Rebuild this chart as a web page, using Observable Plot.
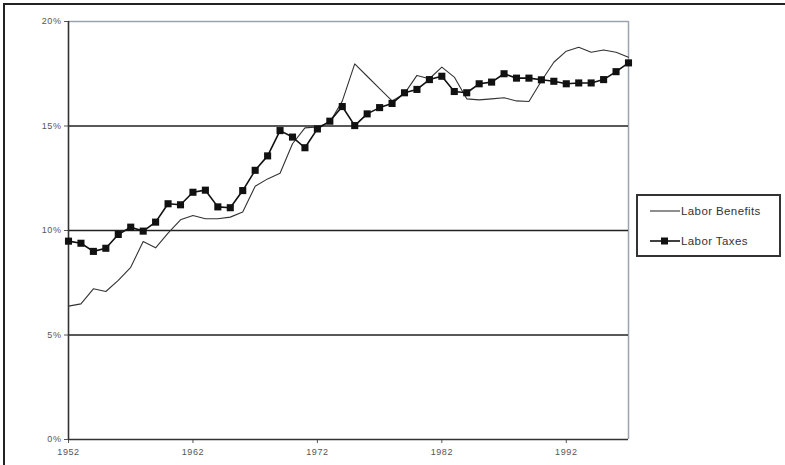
<!DOCTYPE html>
<html>
<head>
<meta charset="utf-8">
<script src="https://cdn.jsdelivr.net/npm/d3@7"></script>
<script src="https://cdn.jsdelivr.net/npm/@observablehq/plot@0.6"></script>
<style>
  html, body { margin: 0; padding: 0; background: #fff; }
  #wrap { position: relative; width: 785px; height: 465px; overflow: hidden; font-family: "Liberation Sans", Arial, sans-serif; }
  #frame { position: absolute; left: 3px; top: 3px; width: 800px; height: 480px; border-left: 2px solid #222; border-top: 2px solid #222; pointer-events: none; }
  #legend { position: absolute; left: 636px; top: 194px; width: 145px; height: 63px; border: 2px solid #333; box-sizing: border-box; background: #fff; font-size: 11.5px; letter-spacing: 0.4px; color: #333; }
  #legend .row { position: absolute; left: 12px; display: flex; align-items: center; white-space: nowrap; }
  #legend svg { margin-right: 1px; }
</style>
</head>
<body>
<div id="wrap">
  <div id="chart"></div>
  <div id="frame"></div>
  <div id="legend">
    <div class="row" style="top:9px"><svg width="30" height="8"><line x1="0" y1="4" x2="30" y2="4" stroke="#444" stroke-width="1.2"/></svg><span>Labor Benefits</span></div>
    <div class="row" style="top:39px"><svg width="30" height="10"><line x1="0" y1="5" x2="30" y2="5" stroke="#111" stroke-width="1.6"/><rect x="11" y="1.5" width="7" height="7" fill="#111"/></svg><span>Labor Taxes</span></div>
  </div>
</div>
<script>
const years = d3.range(1952, 1998);
const laborBenefits = [6.38, 6.49, 7.21, 7.08, 7.61, 8.24, 9.47, 9.17, 9.87, 10.51,
  10.72, 10.56, 10.56, 10.64, 10.88, 12.12, 12.47, 12.74, 14.15, 14.91,
  14.95, 15.18, 16.19, 17.97, 17.38, 16.79, 16.2, 16.55, 17.42, 17.26,
  17.82, 17.34, 16.3, 16.25, 16.3, 16.35, 16.2, 16.17, 17.15, 18.05,
  18.58, 18.77, 18.53, 18.64, 18.53, 18.29];
const laborTaxes = [9.49, 9.39, 9.0, 9.15, 9.81, 10.16, 9.97, 10.4, 11.28, 11.23,
  11.83, 11.93, 11.13, 11.09, 11.91, 12.88, 13.57, 14.78, 14.47, 13.96,
  14.86, 15.23, 15.93, 15.02, 15.58, 15.88, 16.08, 16.59, 16.75, 17.22,
  17.38, 16.65, 16.59, 17.02, 17.1, 17.5, 17.29, 17.29, 17.21, 17.14,
  17.02, 17.06, 17.06, 17.22, 17.6, 18.02];
const xTicks = [1952, 1962, 1972, 1982, 1992];
const yTicks = [0, 5, 10, 15, 20];
const seriesNames = ["Labor Benefits", "Labor Taxes"];

const benefits = years.map((y, i) => ({year: y, value: laborBenefits[i], series: seriesNames[0]}));
const taxes = years.map((y, i) => ({year: y, value: laborTaxes[i], series: seriesNames[1]}));

const chart = Plot.plot({
  width: 785,
  height: 465,
  marginLeft: 68,
  marginRight: 157,
  marginTop: 21,
  marginBottom: 26,
  style: {fontFamily: "'Liberation Sans', Arial, sans-serif", fontSize: "9px", letterSpacing: "0.6px", color: "#555", background: "#fff"},
  x: {domain: [1952, 1997], ticks: xTicks, tickFormat: d => String(d), tickSize: 4, tickPadding: 5, label: null},
  y: {domain: [0, 20], ticks: yTicks, tickFormat: d => d + "%", tickSize: 4, tickPadding: 3, label: null},
  marks: [
    Plot.ruleY([20], {stroke: "#9aa3b0", strokeWidth: 1.5}),
    Plot.ruleX([1997], {stroke: "#9aa3b0", strokeWidth: 1.5}),
    Plot.ruleY([5, 10, 15], {stroke: "#222", strokeWidth: 1.6}),
    Plot.ruleY([0], {stroke: "#333", strokeWidth: 1.6}),
    Plot.ruleX([1952], {stroke: "#333", strokeWidth: 1.6}),
    Plot.line(benefits, {x: "year", y: "value", stroke: "#333", strokeWidth: 1.1}),
    Plot.line(taxes, {x: "year", y: "value", stroke: "#111", strokeWidth: 1.6}),
    Plot.dot(taxes, {x: "year", y: "value", symbol: "square", r: 4, fill: "#111", stroke: null})
  ]
});
document.getElementById("chart").appendChild(chart);
</script>
</body>
</html>
